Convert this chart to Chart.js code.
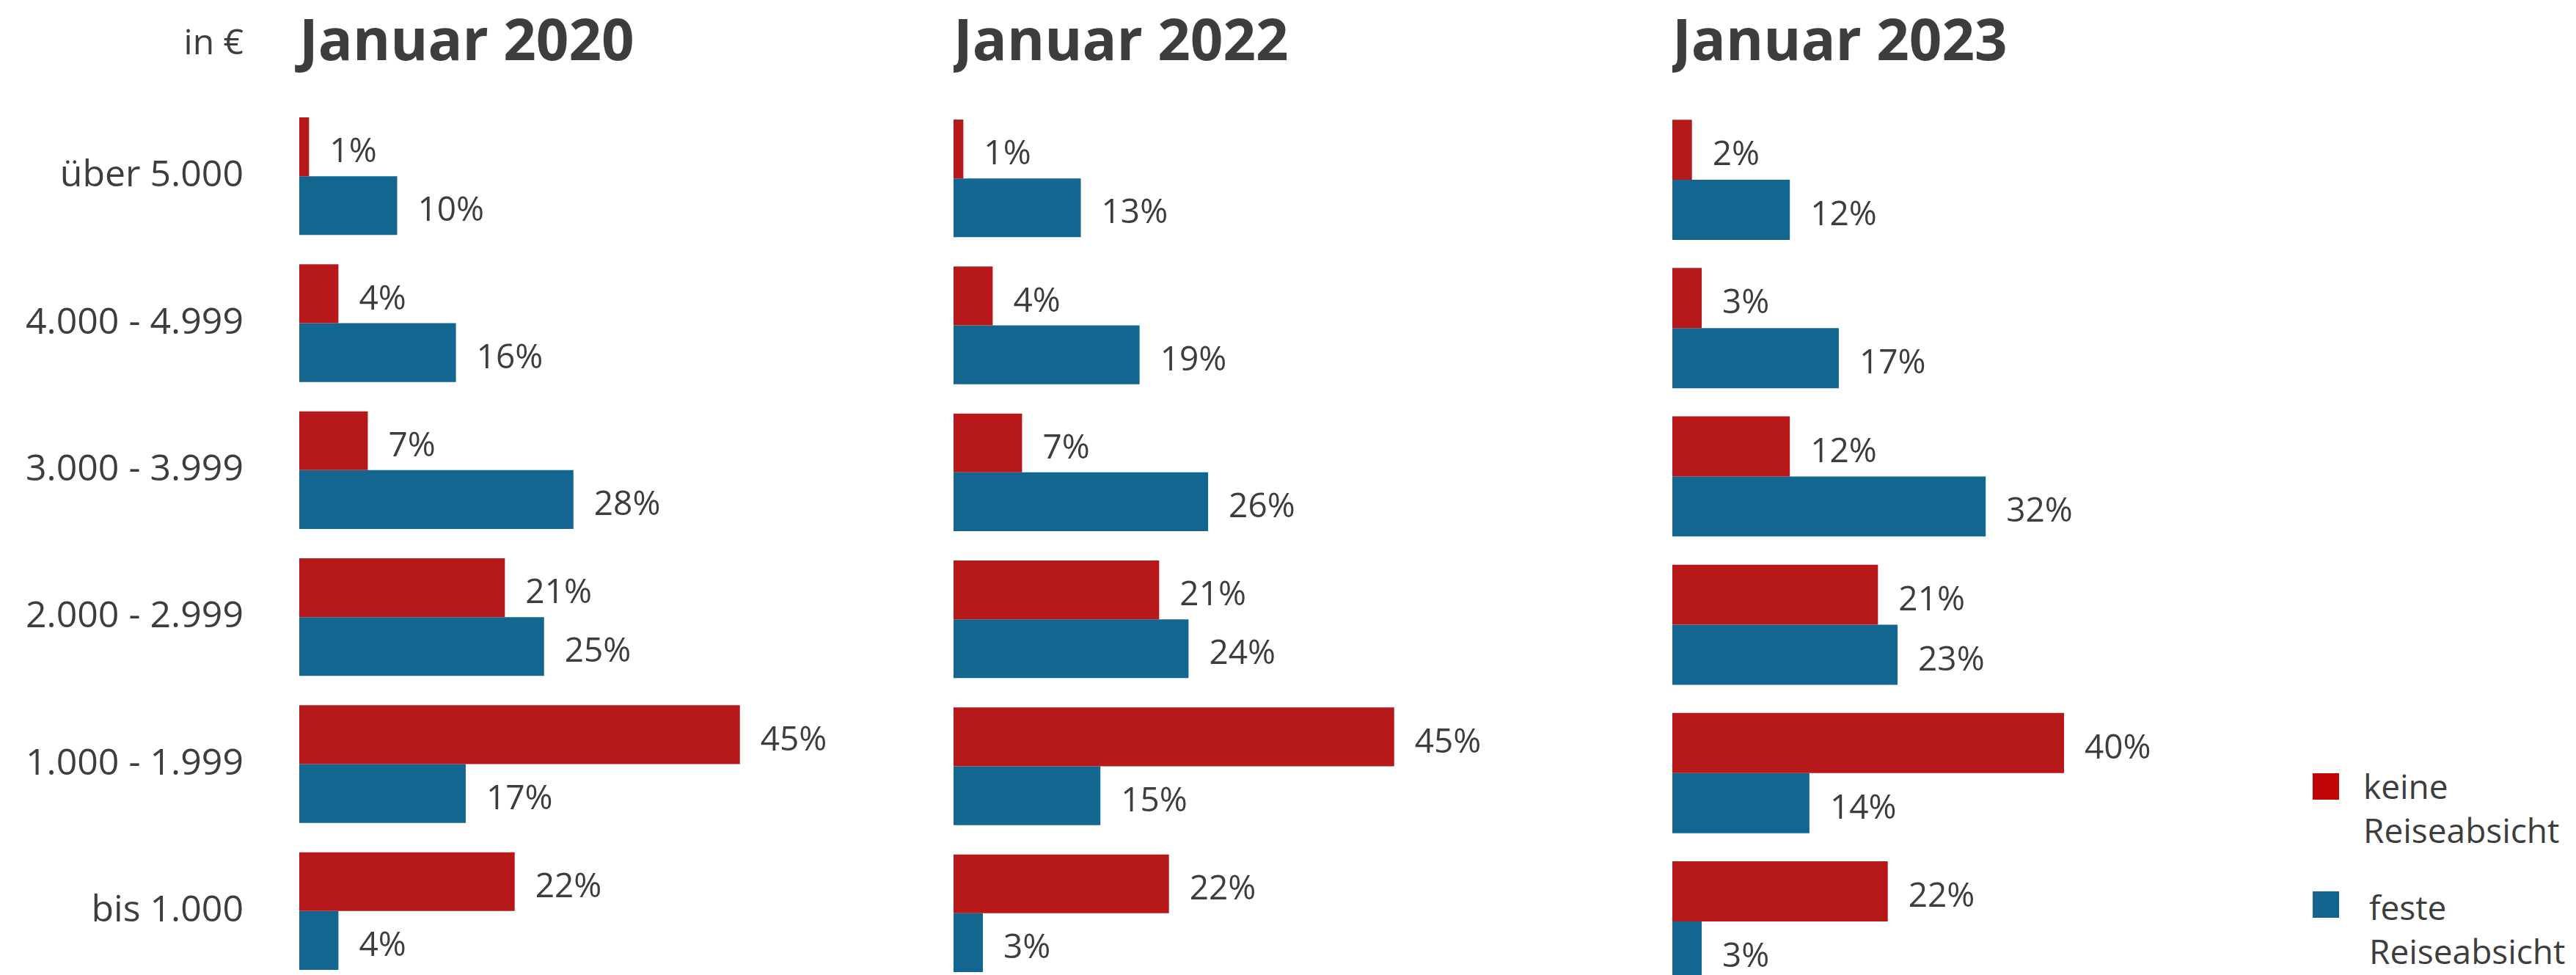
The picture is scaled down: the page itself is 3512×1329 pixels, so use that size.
<!DOCTYPE html>
<html lang="de">
<head>
<meta charset="utf-8">
<title>Reiseabsicht nach Haushaltsnettoeinkommen</title>
<script src="https://cdn.jsdelivr.net/npm/chart.js@4.4.1/dist/chart.umd.min.js"></script>
<style>
  html, body { margin: 0; padding: 0; background: #fff; overflow: hidden; }
  body { width: 3512px; height: 1329px; position: relative; font-family: 'Open Sans', sans-serif; color: #3d3d3f; }
  canvas { position: absolute; top: 0; }
  .leg-box { position: absolute; left: 3153px; width: 36px; height: 36px; }
  .leg-text { position: absolute; width: 290px; font-size: 46px; line-height: 60px; }
</style>
</head>
<body>
<canvas id="panel2020"></canvas>
<canvas id="panel2022"></canvas>
<canvas id="panel2023"></canvas>
<div id="legend"></div>

<script>
// Data
const categories = ['über 5.000', '4.000 - 4.999', '3.000 - 3.999', '2.000 - 2.999', '1.000 - 1.999', 'bis 1.000']
const seriesNames = ['keine Reiseabsicht', 'feste Reiseabsicht']
const panelTitles = ['Januar 2020', 'Januar 2022', 'Januar 2023']
const unitLabel = 'in €'

const keine2020 = [1, 4, 7, 21, 45, 22]
const feste2020 = [10, 16, 28, 25, 17, 4]
const keine2022 = [1, 4, 7, 21, 45, 22]
const feste2022 = [13, 19, 26, 24, 15, 3]
const keine2023 = [2, 3, 12, 21, 40, 22]
const feste2023 = [12, 17, 32, 23, 14, 3]

// Look
const TEXT = '#3d3d3f'
const FONT = "'Open Sans', sans-serif"
const barColors = ['#b7191a', '#13668f']
const legendColors = ['#bf0506', '#13658f']
const X_MAX = 60
const PX_PER_PCT = 13.35

const panels = [
  { id: 'panel2020', title: panelTitles[0], keine: keine2020, feste: feste2020, areaLeft: 408, areaTop: 140, pitch: 200.4, catPct: 0.8, showLabels: true },
  { id: 'panel2022', title: panelTitles[1], keine: keine2022, feste: feste2022, areaLeft: 1300, areaTop: 143, pitch: 200.4, catPct: 0.8, showLabels: false },
  { id: 'panel2023', title: panelTitles[2], keine: keine2023, feste: feste2023, areaLeft: 2280, areaTop: 144, pitch: 202.2, catPct: 0.81, showLabels: false }
]

// titles, unit and value labels
const panelText = {
  id: 'panelText',
  afterDraw(chart, args, opts) {
    const { ctx, chartArea } = chart
    ctx.save()
    ctx.fillStyle = TEXT
    ctx.textBaseline = 'alphabetic'
    ctx.textAlign = 'left'
    ctx.font = `bold 78px ${FONT}`
    ctx.fillText(opts.title, chartArea.left, 82)
    if (opts.unit) {
      ctx.font = `48px ${FONT}`
      ctx.textAlign = 'right'
      ctx.fillText(opts.unit, chartArea.left - 76, 74)
    }
    ctx.font = `46px ${FONT}`
    ctx.textAlign = 'left'
    ctx.textBaseline = 'middle'
    chart.data.datasets.forEach((ds, i) => {
      chart.getDatasetMeta(i).data.forEach((bar, j) => {
        ctx.fillText(ds.data[j] + '%', bar.x + 28, bar.y + 8)
      })
    })
    ctx.restore()
  }
}

function makePanel(cfg) {
  const axisW = cfg.showLabels ? cfg.areaLeft : 0
  const canvas = document.getElementById(cfg.id)
  canvas.style.left = (cfg.areaLeft - axisW) + 'px'
  canvas.width = Math.round(axisW + X_MAX * PX_PER_PCT)
  canvas.height = Math.round(cfg.areaTop + categories.length * cfg.pitch)

  return new Chart(canvas, {
    type: 'bar',
    data: {
      labels: categories,
      datasets: [
        { label: seriesNames[0], data: cfg.keine, backgroundColor: barColors[0] },
        { label: seriesNames[1], data: cfg.feste, backgroundColor: barColors[1] }
      ]
    },
    options: {
      indexAxis: 'y',
      responsive: false,
      animation: false,
      layout: { padding: { top: cfg.areaTop, left: 0, right: 0, bottom: 0 } },
      datasets: { bar: { categoryPercentage: cfg.catPct, barPercentage: 1, borderWidth: 0 } },
      scales: {
        x: { display: false, min: 0, max: X_MAX },
        y: {
          display: cfg.showLabels,
          grid: { display: false, drawTicks: false },
          border: { display: false },
          ticks: { color: TEXT, font: { family: FONT, size: 50 }, padding: 76 },
          afterFit: scale => {
            // fixed label column, no extra top/bottom padding from the tick labels
            scale.width = axisW
            scale.paddingTop = 0
            scale.paddingBottom = 0
          }
        }
      },
      plugins: {
        legend: { display: false },
        tooltip: { enabled: false },
        panelText: { title: cfg.title, unit: cfg.showLabels ? unitLabel : null }
      }
    },
    plugins: [panelText]
  })
}

function buildLegend() {
  const el = document.getElementById('legend')
  const boxTops = [1054, 1215]
  const textTops = [1041, 1206]
  const textLefts = [3222, 3230]
  let html = ''
  seriesNames.forEach((name, i) => {
    html += `<div class="leg-box" style="top:${boxTops[i]}px;background:${legendColors[i]}"></div>
      <div class="leg-text" style="top:${textTops[i]}px;left:${textLefts[i]}px">${name}</div>`
  })
  el.innerHTML = html
}

panels.forEach(makePanel)
buildLegend()
</script>
</body>
</html>
